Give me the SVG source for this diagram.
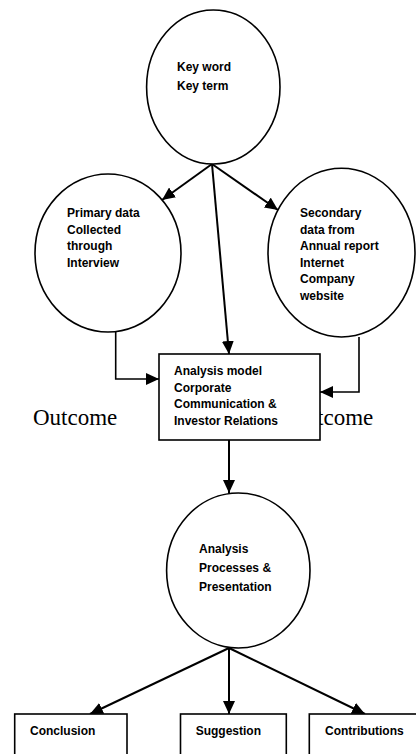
<svg xmlns="http://www.w3.org/2000/svg" width="416" height="754" viewBox="0 0 416 754">
<style>
.shape{fill:#fff;stroke:#000;stroke-width:1.6}
.lbl{font-family:"Liberation Sans",Arial,sans-serif;font-weight:bold;font-size:12px;fill:#000}
.serif{font-family:"Liberation Serif","Times New Roman",serif;font-size:23px;fill:#000}
.conn{fill:none;stroke:#000;stroke-width:2}
.elb{fill:none;stroke:#000;stroke-width:1.6}
</style>
<defs>
<marker id="ah" markerUnits="userSpaceOnUse" markerWidth="14" markerHeight="12" viewBox="0 0 14 12" refX="13" refY="6" orient="auto">
<path d="M0,0 L13,6 L0,12 Z" fill="#000"/>
</marker>
</defs>
<rect width="416" height="754" fill="#fff"/>
<g id="outcome-labels">
<text class="serif" x="33" y="425">Outcome</text>
<text class="serif" x="289" y="425">Outcome</text>
</g>
<g id="connectors">
<path class="conn" d="M212,164 L162,200" marker-end="url(#ah)"/>
<path class="conn" d="M212,164 L278,210" marker-end="url(#ah)"/>
<path class="conn" d="M212,164 L229,354" marker-end="url(#ah)"/>
<path class="elb" d="M115.7,332 V379 H159" marker-end="url(#ah)"/>
<path class="elb" d="M359,337 V392 H320" marker-end="url(#ah)"/>
<path class="conn" d="M229,440 V493" marker-end="url(#ah)"/>
<path class="conn" d="M229,648 L90,714" marker-end="url(#ah)"/>
<path class="conn" d="M229,648 V714" marker-end="url(#ah)"/>
<path class="conn" d="M229,648 L365,714" marker-end="url(#ah)"/>
</g>
<g id="keyword">
<ellipse class="shape" cx="213.3" cy="87" rx="66.7" ry="77"/>
<text class="lbl" x="177" y="71">Key word</text>
<text class="lbl" x="177" y="90">Key term</text>
</g>
<g id="primary">
<ellipse class="shape" cx="108" cy="253" rx="73" ry="79"/>
<text class="lbl" x="67" y="217">Primary data</text>
<text class="lbl" x="67" y="233.5">Collected</text>
<text class="lbl" x="67" y="250">through</text>
<text class="lbl" x="67" y="266.5">Interview</text>
</g>
<g id="secondary">
<ellipse class="shape" cx="341.5" cy="252.6" rx="73.5" ry="84.4"/>
<text class="lbl" x="300" y="217">Secondary</text>
<text class="lbl" x="300" y="233.6">data from</text>
<text class="lbl" x="300" y="250.2">Annual report</text>
<text class="lbl" x="300" y="266.8">Internet</text>
<text class="lbl" x="300" y="283.4">Company</text>
<text class="lbl" x="300" y="300">website</text>
</g>
<g id="analysis-model">
<rect class="shape" x="159" y="354" width="161" height="86"/>
<text class="lbl" x="174" y="375">Analysis model</text>
<text class="lbl" x="174" y="391.7">Corporate</text>
<text class="lbl" x="174" y="408.4">Communication &amp;</text>
<text class="lbl" x="174" y="425">Investor Relations</text>
</g>
<g id="analysis-process">
<ellipse class="shape" cx="238.3" cy="570.5" rx="71.7" ry="77.5"/>
<text class="lbl" x="199" y="553">Analysis</text>
<text class="lbl" x="199" y="572">Processes &amp;</text>
<text class="lbl" x="199" y="591">Presentation</text>
</g>
<g id="conclusion">
<rect class="shape" x="14.7" y="714" width="112.3" height="50"/>
<text class="lbl" x="30" y="735">Conclusion</text>
</g>
<g id="suggestion">
<rect class="shape" x="180.5" y="714" width="105.8" height="50"/>
<text class="lbl" x="195.7" y="735">Suggestion</text>
</g>
<g id="contributions">
<rect class="shape" x="309.3" y="714" width="120" height="50"/>
<text class="lbl" x="325" y="735">Contributions</text>
</g>
</svg>
